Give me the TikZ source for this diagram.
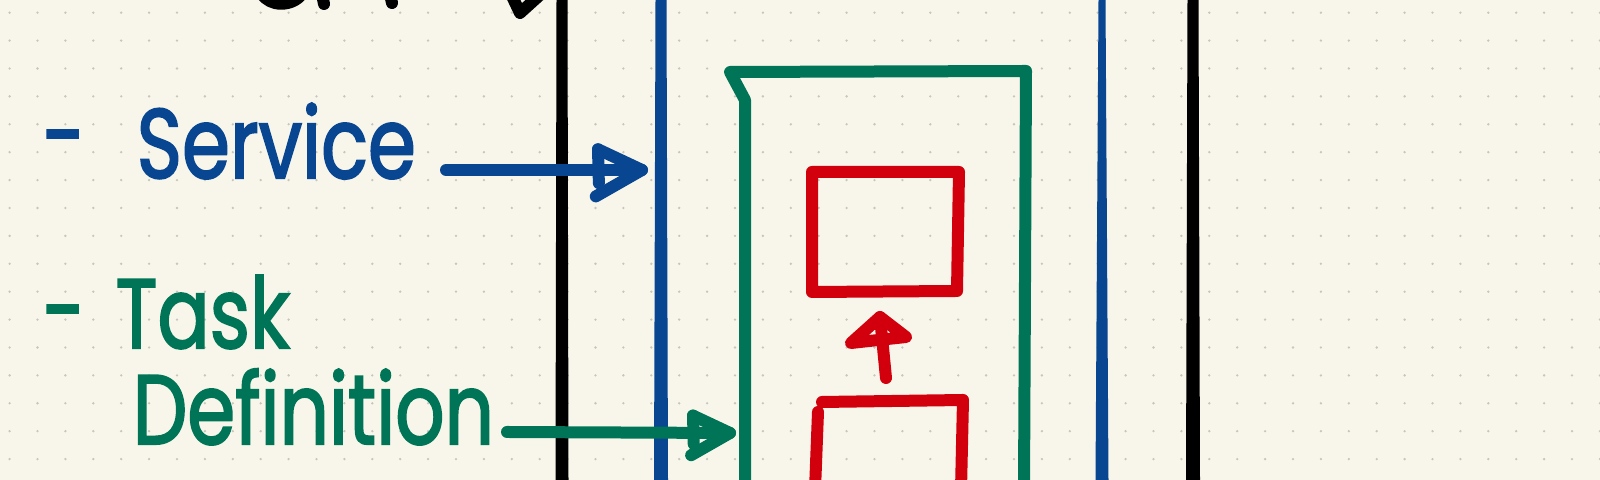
\documentclass[tikz,border=0pt]{standalone}
\usepackage{fontspec}
\setmainfont{Poppins}
\newfontfamily\handfont{Poppins}[FakeBold=2.2]
\usepackage{xcolor}
\usepackage{tikz}
\usetikzlibrary{calc, positioning}
\definecolor{paperCream}{RGB}{248,246,234}
\definecolor{dotGray}{RGB}{198,198,190}
\definecolor{penBlue}{RGB}{8,70,146}
\definecolor{penGreen}{RGB}{0,116,86}
\definecolor{penRed}{RGB}{210,0,12}
\tikzset{
	pen/.style={line width=1.2mm, line cap=round, line join=round},
	hand/.style={inner sep=0pt, font=\handfont\fontsize{28pt}{32pt}\selectfont}
}
\newcommand{\Hand}[1]{\scalebox{0.785}[1]{#1}}
\newcommand{\PenRule}[5]{
	\def\lx{#1}
	\def\ltop{#2}
	\def\wtop{#3}
	\def\wbot{#4}
	\def\lpen{#5}
	\fill[\lpen] ({\lx-\wtop/2},\ltop) -- ({\lx+\wtop/2},\ltop) -- ({\lx+\wbot/2},480) -- ({\lx-\wbot/2},480) -- cycle;
}
\newcommand{\PenHead}[3]{
	\def\htip{#1}
	\def\hpen{#2}
	\def\hlen{#3}
	\draw[pen, \hpen] ($(\htip)+(-\hlen,-0.47*\hlen)$) -- (\htip) -- ($(\htip)+(-1.05*\hlen,0.6*\hlen)$);
	\draw[pen, \hpen] ($(\htip)+(-\hlen,-0.47*\hlen)$) -- ($(\htip)+(-0.98*\hlen,0.3*\hlen)$);
}

\begin{document}
\begin{tikzpicture}[x=0.1mm, y=-0.1mm]

	\fill[paperCream] (0,0) rectangle (1600,480);
	\useasboundingbox (0,0) rectangle (1600,480);
	\clip (0,0) rectangle (1600,480);

	\foreach \i in {0,...,57}
		\foreach \j in {0,...,16}
			\fill[dotGray] ({9.6+27.9*\i},{12.7+27.9*\j}) circle (0.13mm);

	% cut-off strokes at the top edge
	\draw[pen, black] (262,-6) .. controls (270,7) and (292,7) .. (302,-6);
	\draw[pen, black] (322,-6) -- (324,4);
	\draw[pen, black] (390,-6) -- (392,3);
	\draw[pen, black] (511,-6) -- (520,13) -- (541,-6);

	% lanes
	\PenRule{562}{0}{11}{13}{black}
	\PenRule{661}{0}{11}{14}{penBlue}
	\PenRule{1102}{0}{7}{13}{penBlue}
	\PenRule{1193}{0}{11}{14}{black}

	% task box
	\coordinate (gTL) at (730,72);
	\coordinate (gTR) at (1026,71);
	\coordinate (gKnee) at (745,100);
	\draw[pen, penGreen] (745,490) -- (gKnee) -- (gTL) -- (gTR) -- (1024,490);

	% containers
	\draw[pen, penRed] (812,172) -- (959,172) -- (957,291) -- (812,292) -- cycle;
	\draw[pen, penRed] (818,412) -- (815,490);
	\draw[pen, penRed] (822,402) -- (963,400) -- (961,490);

	\coordinate (redFoot) at (886,378);
	\coordinate (redTip) at (880,317);
	\draw[pen, penRed] (redFoot) -- (redTip);
	\draw[pen, penRed] (851,343) -- (redTip) -- (906,337) -- cycle;

	% labels
	\node[hand, penBlue, anchor=base west] (srvDash) at (42,170) {\Hand{-}};
	\node[hand, penBlue, anchor=base west] (srv) at (136,178) {\Hand{Service}};
	\node[hand, penGreen, anchor=base west] (taskDash) at (42,345) {\Hand{-}};
	\node[hand, penGreen, anchor=base west] (task) at (115,348) {\Hand{Task}};
	\node[hand, penGreen, anchor=base west] (def) at (132,444) {\Hand{Definition}};

	\coordinate (srvTip) at (642,170);
	\coordinate (defTip) at (730,433);
	\draw[pen, penBlue] (446,170) coordinate (srvFoot) -- (srvTip);
	\PenHead{srvTip}{penBlue}{44}
	\draw[pen, penGreen] (507,432) coordinate (defFoot) -- (defTip);
	\PenHead{defTip}{penGreen}{37}

\end{tikzpicture}
\end{document}
